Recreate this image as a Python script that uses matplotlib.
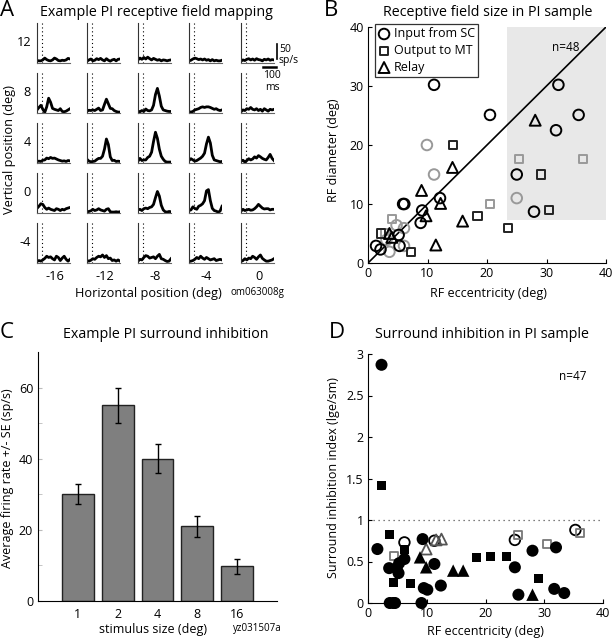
import matplotlib
matplotlib.use("Agg")
import matplotlib.pyplot as plt
import numpy as np
from matplotlib.patches import Rectangle

plt.rcParams['font.family'] = ['Open Sans', 'DejaVu Sans']

W, H = 612, 639
fig = plt.figure(figsize=(W / 100, H / 100), dpi=100)


def add_ax(l, t, r, b):
    return fig.add_axes([l / W, 1 - b / H, (r - l) / W, (b - t) / H])


def ftext(x, y, s, **kw):
    return fig.text(x / W, 1 - y / H, s, **kw)


# ---------------- Panel A data ----------------
a_cols = ["-16", "-12", "-8", "-4", "0"]
a_rows = ["12", "8", "4", "0", "-4"]
row_12 = [
    [8, 7, 7, 10, 16, 11, 8, 7, 10, 16, 13, 8, 7, 9, 8, 10, 15, 13],
    [6, 10, 13, 7, 9, 14, 11, 15, 10, 7, 14, 9, 6, 10, 12, 7, 12, 13],
    [10, 16, 12, 18, 13, 19, 14, 10, 15, 12, 9, 11, 7, 10, 9, 7, 9, 10],
    [7, 9, 13, 16, 14, 11, 13, 10, 13, 9, 11, 7, 11, 7, 9, 7, 7, 9],
    [6, 10, 8, 12, 14, 10, 13, 9, 14, 11, 10, 7, 12, 10, 13, 9, 11, 10],
]
row_8 = [
    [10, 18, 25, 12, 2, 20, 48, 35, 15, 12, 10, 8, 14, 5, 4, 6, 10, 14],
    [6, 9, 8, 10, 8, 12, 16, 8, 10, 28, 45, 30, 15, 14, 8, 5, 3, 3],
    [6, 4, 8, 5, 13, 8, 7, 10, 25, 60, 80, 55, 22, 10, 8, 6, 5, 5],
    [4, 3, 5, 10, 12, 14, 18, 20, 18, 20, 20, 18, 15, 12, 14, 10, 8, 10],
    [4, 10, 8, 14, 12, 18, 12, 10, 14, 8, 12, 6, 14, 10, 6, 12, 10, 12],
]
row_4 = [
    [5, 6, 5, 9, 10, 16, 14, 18, 15, 16, 13, 10, 8, 6, 7, 5, 8, 7],
    [12, 6, 4, 5, 6, 11, 15, 15, 22, 45, 78, 60, 20, 8, 9, 5, 6, 5],
    [6, 15, 8, 10, 10, 18, 22, 35, 70, 100, 80, 45, 22, 12, 5, 3, 3, 3],
    [8, 14, 10, 6, 8, 12, 16, 22, 32, 62, 84, 65, 25, 10, 8, 6, 4, 5],
    [6, 9, 3, 8, 14, 10, 13, 20, 16, 24, 20, 15, 12, 10, 18, 28, 15, 8],
]
row_0 = [
    [15, 22, 30, 28, 18, 12, 16, 12, 10, 8, 14, 12, 8, 12, 10, 14, 16, 18],
    [4, 5, 7, 12, 8, 10, 14, 10, 8, 6, 12, 14, 4, 3, 3, 4, 3, 4],
    [10, 12, 8, 14, 16, 14, 18, 20, 28, 50, 70, 55, 25, 10, 4, 3, 5, 4],
    [8, 10, 20, 15, 12, 22, 25, 30, 40, 72, 76, 40, 15, 8, 6, 3, 6, 22],
    [6, 12, 8, 10, 12, 9, 10, 14, 20, 28, 22, 16, 13, 14, 14, 10, 12, 12],
]
row_m4 = [
    [5, 8, 6, 10, 15, 22, 18, 20, 14, 10, 22, 18, 8, 16, 22, 12, 6, 12],
    [8, 6, 9, 14, 12, 18, 22, 20, 26, 18, 24, 14, 16, 8, 10, 6, 10, 6],
    [6, 12, 10, 18, 24, 22, 16, 18, 20, 14, 22, 28, 14, 12, 8, 5, 6, 14],
    [5, 6, 8, 12, 18, 14, 22, 16, 12, 18, 14, 10, 12, 14, 8, 10, 12, 10],
    [5, 8, 14, 10, 16, 14, 22, 18, 12, 20, 26, 15, 10, 6, 6, 8, 10, 14],
]
a_traces = [row_12, row_8, row_4, row_0, row_m4]
a_time_max = 250      # ms
a_onset = 40          # ms (dotted line)
a_rate_max = 130      # sp/s

# ---------------- Panel B data ----------------
b_circ_k_x = [11.1, 20.5, 32.0, 35.4, 31.6, 25.0, 27.9, 12.1, 5.9, 6.1, 9.1, 8.85, 1.35, 2.1, 5.15, 5.3]
b_circ_k_y = [30.2, 25.1, 30.2, 25.1, 22.5, 15.0, 8.7, 11.0, 10.0, 10.0, 8.9, 6.8, 2.9, 2.3, 4.75, 2.9]
b_circ_g_x = [9.9, 11.1, 25.0, 3.6, 4.8, 6.05, 6.05, 3.1]
b_circ_g_y = [20.0, 15.0, 11.0, 1.9, 6.4, 5.9, 2.9, 3.9]
b_sq_k_x = [14.3, 29.0, 30.4, 18.4, 23.5, 7.2, 2.2]
b_sq_k_y = [20.0, 15.0, 9.0, 8.0, 6.0, 1.9, 5.0]
b_sq_g_x = [25.4, 36.1, 20.5, 4.1, 2.9]
b_sq_g_y = [17.6, 17.6, 10.0, 7.4, 5.0]
b_tri_x = [28.1, 14.2, 9.0, 12.2, 9.75, 15.9, 11.4, 3.6, 4.0]
b_tri_y = [24.2, 16.2, 12.3, 10.1, 8.0, 7.1, 3.05, 5.0, 4.35]
b_shade_x0, b_shade_y0 = 23.4, 7.3
b_labels = ["Input from SC", "Output to MT", "Relay"]

# ---------------- Panel C data ----------------
c_sizes = ["1", "2", "4", "8", "16"]
c_rates = [30, 55, 40, 21, 9.7]
c_se = [2.8, 5.0, 4.0, 3.0, 2.0]

# ---------------- Panel D data ----------------
d_circ_f_x = [2.3, 1.6, 3.6, 4.9, 5.3, 5.2, 6.2, 3.7, 4.3, 4.6, 9.1, 9.3, 11.3, 9.5, 10.1, 12.4, 25.0, 25.6, 28.0, 32.0, 31.7, 33.4]
d_circ_f_y = [2.87, 0.65, 0.42, 0.42, 0.48, 0.36, 0.53, 0.0, 0.0, 0.0, 0.0, 0.77, 0.47, 0.18, 0.16, 0.21, 0.43, 0.10, 0.63, 0.67, 0.17, 0.12]
d_sq_f_x = [2.3, 3.6, 6.2, 4.4, 7.3, 18.5, 20.8, 23.6, 29.1]
d_sq_f_y = [1.42, 0.82, 0.65, 0.25, 0.24, 0.55, 0.56, 0.56, 0.29]
d_tri_f_x = [8.85, 9.9, 14.5, 16.2, 28.0]
d_tri_f_y = [0.55, 0.43, 0.39, 0.39, 0.10]
d_circ_o_x = [6.2, 11.3, 25.0, 35.3]
d_circ_o_y = [0.73, 0.75, 0.76, 0.88]
d_sq_o_x = [4.4, 25.6, 30.4, 36.1]
d_sq_o_y = [0.57, 0.82, 0.71, 0.84]
d_tri_o_x = [9.9, 11.6, 12.5]
d_tri_o_y = [0.65, 0.76, 0.77]

FS_T = 10.3
FS_L = 9
FS_K = 9
FS_P = 16
FS_A = 9.2

# ================= Panel A =================
col_l = [37, 87, 138, 189, 241]
row_t = [23, 73, 123, 173, 223]
aw, ah = 33, 40
t = np.linspace(0, a_time_max, len(row_12[0]))
for ri, row in enumerate(a_traces):
    for ci, tr in enumerate(row):
        ax = add_ax(col_l[ci], row_t[ri], col_l[ci] + aw, row_t[ri] + ah)
        ax.plot(t, tr, color='black', lw=2.0, solid_joinstyle='round')
        ax.axvline(a_onset, color='black', lw=0.8, ls=(0, (1, 2.5)))
        ax.set_xlim(0, a_time_max)
        ax.set_ylim(0, a_rate_max)
        for s in ['top', 'right']:
            ax.spines[s].set_visible(False)
        ax.spines['left'].set_color('#333333')
        ax.spines['bottom'].set_color('#666666')
        ax.set_xticks([])
        ax.set_yticks([])
        if ri == 0 and ci == 4:
            ax.plot([273, 273], [12, 62], color='black', lw=1.2, clip_on=False)
            ax.plot([167, 267], [-13, -13], color='black', lw=1.8, clip_on=False)
    ftext(31, row_t[ri] + ah / 2, a_rows[ri], ha='right', va='center', fontsize=FS_A)
for ci in range(5):
    ftext(col_l[ci] + aw / 2 + 1, 277, a_cols[ci], ha='center', va='center', fontsize=FS_A)
ftext(279, 50, "50", ha='left', va='center', fontsize=7.5)
ftext(279, 61, "sp/s", ha='left', va='center', fontsize=7.5)
ftext(272, 75, "100", ha='center', va='center', fontsize=7.5)
ftext(272, 87, "ms", ha='center', va='center', fontsize=7.5)
ftext(10, 149, "Vertical position (deg)", rotation=90, ha='center', va='center', fontsize=FS_A)
ftext(148, 293, "Horizontal position (deg)", ha='center', va='center', fontsize=FS_A)
ftext(257, 293, "om063008g", ha='center', va='center', fontsize=7)
ftext(156, 13, "Example PI receptive field mapping", ha='center', va='center', fontsize=FS_T)
ftext(0, 11, "A", ha='left', va='center', fontsize=FS_P)

# ================= Panel B =================
axb = add_ax(368, 27, 606, 263)
axb.add_patch(Rectangle((b_shade_x0, b_shade_y0), 40 - b_shade_x0, 40 - b_shade_y0,
                        facecolor='#e8e8e8', edgecolor='none', zorder=0))
axb.plot([0, 40], [0, 40], color='black', lw=1.2, zorder=1)
mk = dict(facecolors='none', linewidths=1.4, zorder=3)
axb.scatter(b_circ_g_x, b_circ_g_y, s=58, marker='o', edgecolors='#999999', **mk)
axb.scatter(b_sq_g_x, b_sq_g_y, s=34, marker='s', edgecolors='#999999', **mk)
h1 = axb.scatter(b_circ_k_x, b_circ_k_y, s=58, marker='o', edgecolors='black', **mk)
h2 = axb.scatter(b_sq_k_x, b_sq_k_y, s=34, marker='s', edgecolors='#222222', **mk)
h3 = axb.scatter(b_tri_x, b_tri_y, s=62, marker='^', edgecolors='black', **mk)
axb.set_xlim(0, 40)
axb.set_ylim(0, 40)
axb.set_xticks([0, 10, 20, 30, 40])
axb.set_yticks([0, 10, 20, 30, 40])
for s in ['top', 'right']:
    axb.spines[s].set_visible(False)
axb.tick_params(direction='in', length=3, labelsize=FS_K, pad=3)
leg = axb.legend([h1, h2, h3], b_labels, loc='upper left', bbox_to_anchor=(0.028, 1.012),
                 fontsize=FS_L, frameon=True, fancybox=False, edgecolor='black',
                 handletextpad=0.3, borderpad=0.25, labelspacing=0.3, handlelength=1.0,
                 borderaxespad=0)
leg.get_frame().set_linewidth(0.9)
axb.text(0.83, 0.915, "n=48", transform=axb.transAxes, ha='center', va='center', fontsize=8.5)
ftext(333, 150, "RF diameter (deg)", rotation=90, ha='center', va='center', fontsize=FS_L)
ftext(488, 293, "RF eccentricity (deg)", ha='center', va='center', fontsize=FS_L)
ftext(488, 13, "Receptive field size in PI sample", ha='center', va='center', fontsize=FS_T)
ftext(324, 11, "B", ha='left', va='center', fontsize=FS_P)

# ================= Panel C =================
axc = add_ax(38, 352, 277, 601)
xc = np.arange(1, len(c_sizes) + 1)
axc.bar(xc, c_rates, width=0.8, color='#7f7f7f', edgecolor='#222222', linewidth=1.0, zorder=2)
axc.errorbar(xc, c_rates, yerr=c_se, fmt='none', ecolor='black', elinewidth=1.0,
             capsize=2, capthick=1.0, zorder=3)
axc.set_xlim(0, 6)
axc.set_ylim(0, 70)
axc.set_xticks(xc)
axc.set_xticklabels(c_sizes)
axc.set_yticks([0, 20, 40, 60])
axc.set_yticks([10, 30, 50], minor=True)
for s in ['top', 'right']:
    axc.spines[s].set_visible(False)
axc.tick_params(which='both', direction='in', length=3, labelsize=FS_K, color='#bbbbbb')
axc.tick_params(axis='x', length=0, pad=5)
ftext(8, 478, "Average firing rate +/- SE (sp/s)", rotation=90, ha='center', va='center', fontsize=FS_L)
ftext(153, 629, "stimulus size (deg)", ha='center', va='center', fontsize=FS_L)
ftext(257, 629, "yz031507a", ha='center', va='center', fontsize=7)
ftext(166, 335, "Example PI surround inhibition", ha='center', va='center', fontsize=FS_T)
ftext(0, 333, "C", ha='left', va='center', fontsize=FS_P)

# ================= Panel D =================
axd = add_ax(368, 354, 603, 603)
axd.axhline(1, color='#555555', lw=0.9, ls=(0, (1, 3)), zorder=1)
mo = dict(facecolors='none', linewidths=1.3, zorder=3)
mf = dict(edgecolors='none', zorder=3)
axd.scatter(d_circ_o_x, d_circ_o_y, s=58, marker='o', edgecolors='black', **mo)
axd.scatter(d_sq_o_x, d_sq_o_y, s=34, marker='s', edgecolors='#777777', **mo)
axd.scatter(d_tri_o_x, d_tri_o_y, s=62, marker='^', edgecolors='#555555', **mo)
axd.scatter(d_circ_f_x, d_circ_f_y, s=75, marker='o', facecolors='black', clip_on=False, **mf)
axd.scatter(d_sq_f_x, d_sq_f_y, s=42, marker='s', facecolors='black', **mf)
axd.scatter(d_tri_f_x, d_tri_f_y, s=80, marker='^', facecolors='black', **mf)
axd.set_xlim(0, 40)
axd.set_ylim(0, 3)
axd.set_xticks([0, 10, 20, 30, 40])
axd.set_yticks([0, 0.5, 1, 1.5, 2, 2.5, 3])
axd.set_yticklabels(["0", "0.5", "1", "1.5", "2", "2.5", "3"])
for s in ['top', 'right']:
    axd.spines[s].set_visible(False)
axd.tick_params(direction='in', length=3, labelsize=FS_K, pad=3)
axd.text(0.87, 0.91, "n=47", transform=axd.transAxes, ha='center', va='center', fontsize=8.5)
ftext(334, 478, "Surround inhibition index (lge/sm)", rotation=90, ha='center', va='center', fontsize=FS_L)
ftext(485, 632, "RF eccentricity (deg)", ha='center', va='center', fontsize=FS_L)
ftext(482, 335, "Surround inhibition in PI sample", ha='center', va='center', fontsize=FS_T)
ftext(329, 333, "D", ha='left', va='center', fontsize=FS_P)

fig.savefig("out.png", dpi=100)
